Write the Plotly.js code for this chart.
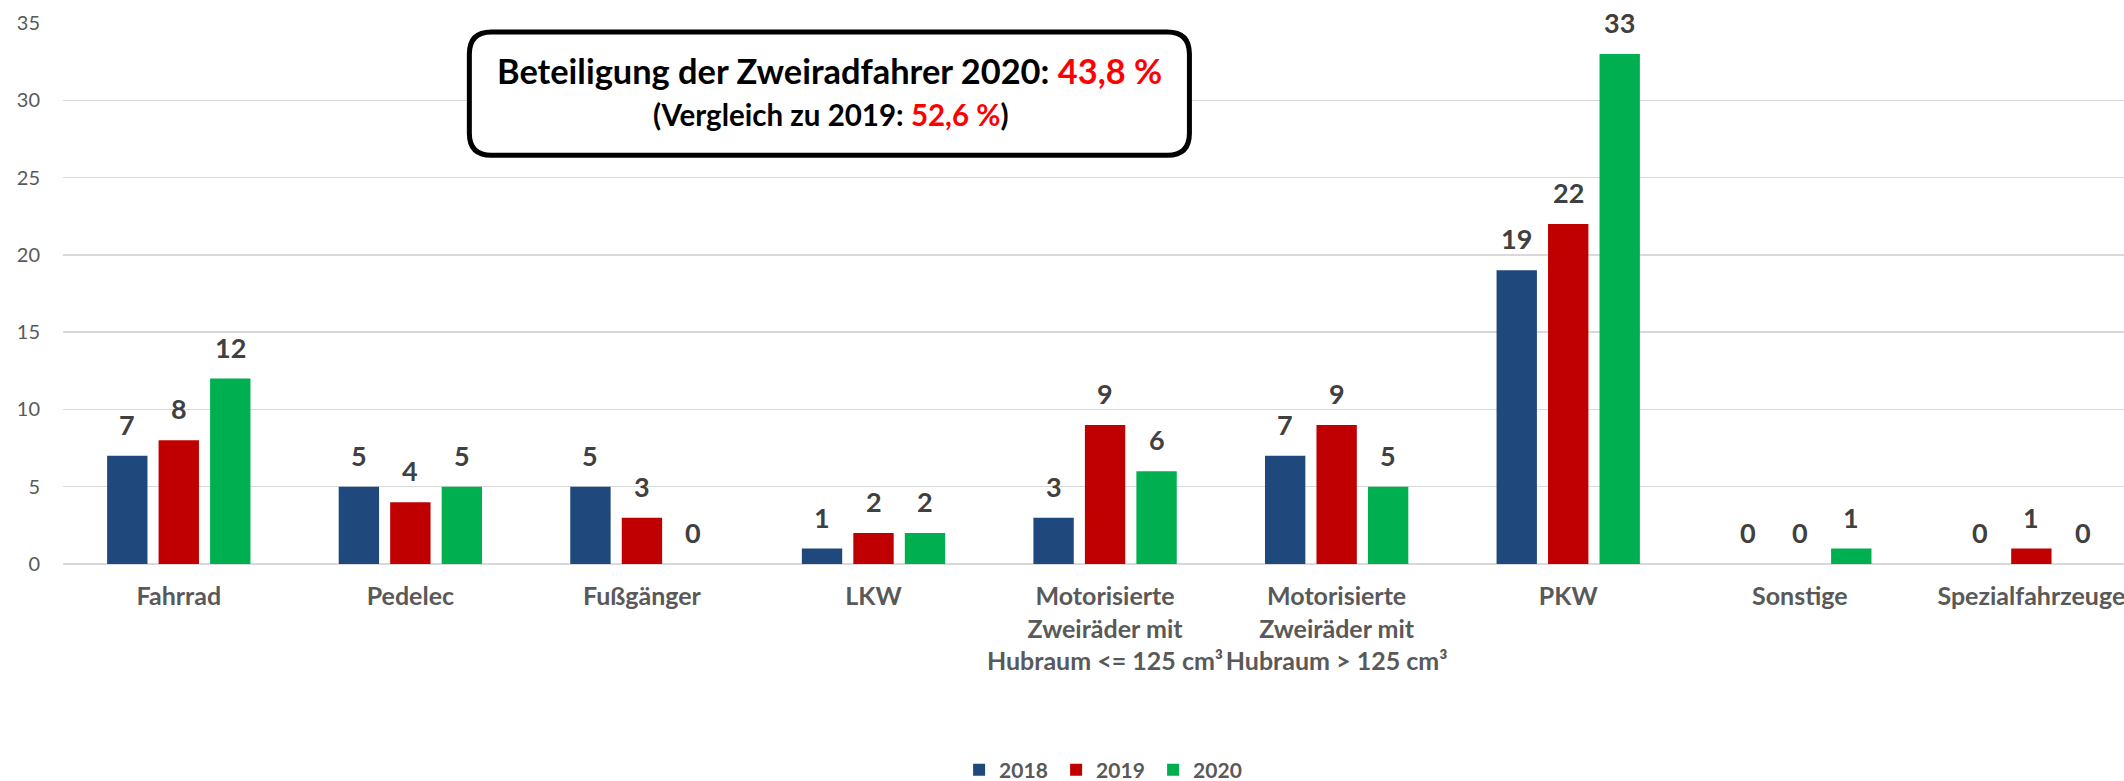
<!DOCTYPE html>
<html>
<head>
<meta charset="utf-8">
<script src="https://cdn.plot.ly/plotly-3.0.1.min.js"></script>
<style>html,body{margin:0;padding:0;background:#fff;}#chart{width:2124px;height:781px;}</style>
</head>
<body>
<div id="chart"></div>
<script>
// ---- data ----
const categories = [
  "Fahrrad",
  "Pedelec",
  "Fußgänger",
  "LKW",
  "Motorisierte<br>Zweiräder mit<br>Hubraum <= 125 cm³",
  "Motorisierte<br>Zweiräder mit<br>Hubraum > 125 cm³",
  "PKW",
  "Sonstige",
  "Spezialfahrzeuge"
];
const seriesNames = ["2018", "2019", "2020"];
const values2018 = [7, 5, 5, 1, 3, 7, 19, 0, 0];
const values2019 = [8, 4, 3, 2, 9, 9, 22, 0, 1];
const values2020 = [12, 5, 0, 2, 6, 5, 33, 1, 0];
const yTicks = [0, 5, 10, 15, 20, 25, 30, 35];
const boxLine1 = "<b>Beteiligung der Zweiradfahrer 2020: <span style='color:#FF0000'>43,8 %</span></b>";
const boxLine2 = "<b>(Vergleich zu 2019: <span style='color:#FF0000'>52,6 %</span>)</b>";

// ---- style / layout ----
const colors = ["#1F497D", "#C00000", "#00B050"];
const W = 2124, H = 781;
const mL = 63.2, mT = 23.4, plotBottom = 564;
const mB = H - plotBottom, mR = 0;
const pw = W - mL - mR, ph = plotBottom - mT;
const bargap = 0.333, bargroupgap = 0.216;
const FONT = "Lato, 'Open Sans', sans-serif";

const px2x = p => (p - mL) / pw;
const px2y = p => (plotBottom - p) / ph;

const allValues = [values2018, values2019, values2020];
const traces = allValues.map((vals, k) => ({
  type: "bar",
  name: seriesNames[k],
  x: categories,
  y: vals,
  marker: {color: colors[k], line: {width: 0}},
  hoverinfo: "x+y+name"
}));

// data labels placed through the axes' scales
const slot = (1 - bargap) / allValues.length;
const annotations = [];
allValues.forEach((vals, k) => {
  const off = (k - (allValues.length - 1) / 2) * slot;
  vals.forEach((v, i) => {
    annotations.push({
      xref: "x", yref: "y", x: i + off, y: v,
      text: "<b>" + v + "</b>", showarrow: false,
      xanchor: "center", yanchor: "bottom", yshift: 13,
      font: {family: FONT, size: 27, color: "#404040"}
    });
  });
});

// info box
const bx0 = 469.5, bx1 = 1189.5, by0 = 32.5, by1 = 155.5, r = 22;
const P = (x, y) => px2x(x).toFixed(5) + "," + px2y(y).toFixed(5);
const boxPath =
  "M" + P(bx0 + r, by0) +
  " L" + P(bx1 - r, by0) +
  " Q" + P(bx1, by0) + " " + P(bx1, by0 + r) +
  " L" + P(bx1, by1 - r) +
  " Q" + P(bx1, by1) + " " + P(bx1 - r, by1) +
  " L" + P(bx0 + r, by1) +
  " Q" + P(bx0, by1) + " " + P(bx0, by1 - r) +
  " L" + P(bx0, by0 + r) +
  " Q" + P(bx0, by0) + " " + P(bx0 + r, by0) + " Z";

const cx = (bx0 + bx1) / 2;
annotations.push({
  xref: "paper", yref: "paper", x: px2x(cx), y: px2y(71),
  text: boxLine1, showarrow: false, xanchor: "center", yanchor: "middle",
  font: {family: FONT, size: 34.4, color: "#000000"}
});
annotations.push({
  xref: "paper", yref: "paper", x: px2x(cx + 2), y: px2y(115),
  text: boxLine2, showarrow: false, xanchor: "center", yanchor: "middle",
  font: {family: FONT, size: 29.5, color: "#000000"}
});

const layout = {
  width: W, height: H,
  margin: {l: mL, r: mR, t: mT, b: mB, pad: 0, autoexpand: false},
  paper_bgcolor: "#ffffff", plot_bgcolor: "#ffffff",
  barmode: "group", bargap: bargap, bargroupgap: bargroupgap,
  showlegend: true,
  xaxis: {
    type: "category", range: [-0.5, 8.4], fixedrange: true,
    showgrid: false, zeroline: false, showline: false, ticks: "",
    tickangle: 0,
    tickfont: {family: FONT, size: 25, color: "#595959", weight: "bold"},
    ticklabelstandoff: 15
  },
  yaxis: {
    range: [0, 35], tickvals: yTicks, ticktext: yTicks.map(String), fixedrange: true,
    showgrid: true, gridcolor: "#D9D9D9", gridwidth: 1.3,
    zeroline: true, zerolinecolor: "#D9D9D9", zerolinewidth: 1.3,
    showline: false, ticks: "",
    tickfont: {family: FONT, size: 20, color: "#595959"},
    ticklabelstandoff: 22
  },
  legend: {
    orientation: "h", x: px2x(1104.7), xanchor: "center",
    y: px2y(770), yanchor: "middle",
    font: {family: FONT, size: 21, color: "#595959", weight: "bold"},
    entrywidth: 52, entrywidthmode: "pixels",
    traceorder: "normal", bgcolor: "rgba(0,0,0,0)"
  },
  shapes: [{
    type: "path", xref: "paper", yref: "paper", path: boxPath,
    line: {color: "#000000", width: 5}, fillcolor: "#ffffff", layer: "above"
  }],
  annotations: annotations
};

Plotly.newPlot("chart", traces, layout, {displayModeBar: false, staticPlot: true});
</script>
</body>
</html>
